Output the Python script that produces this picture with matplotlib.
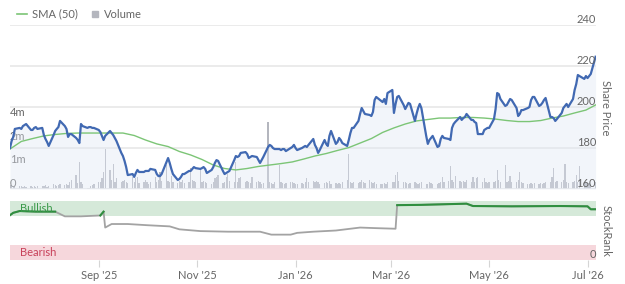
import numpy as np
import pandas as pd
import matplotlib
matplotlib.use("Agg")
import matplotlib.pyplot as plt
from matplotlib.lines import Line2D
from matplotlib.ticker import NullLocator

plt.rcParams['font.family'] = ['Lato', 'DejaVu Sans']

# trading days on the chart (Tue..Mon rows below)
days = pd.bdate_range('2025-07-08', '2026-07-06')

# daily close, one row per week
price_rows = [
    [180.0, 183.4, 185.4, 189.3, 189.8],
    [189.3, 190.7, 191.2, 191.7, 188.8],
    [188.8, 189.8, 190.2, 189.3, 189.8],
    [186.3, 184.4, 182.9, 181.0, 186.3],
    [188.3, 189.3, 190.2, 193.2, 190.7],
    [189.3, 185.4, 186.8, 186.8, 184.9],
    [183.9, 182.4, 191.7, 190.7, 189.8],
    [190.2, 190.2, 189.8, 189.8, 188.8],
    [187.8, 185.9, 183.9, 185.9, 188.3],
    [187.3, 186.3, 184.9, 183.4, 177.6],
    [176.1, 173.7, 170.7, 166.8, 167.3],
    [165.9, 167.8, 169.3, 168.3, 168.3],
    [168.8, 168.8, 168.8, 169.8, 169.3],
    [167.3, 166.3, 166.3, 167.3, 173.2],
    [175.1, 172.7, 169.8, 167.3, 164.4],
    [164.9, 165.9, 167.3, 167.3, 168.8],
    [168.8, 169.8, 170.7, 170.2, 169.8],
    [170.2, 170.7, 169.8, 167.8, 169.3],
    [170.7, 172.7, 174.1, 173.7, 168.8],
    [167.3, 167.8, 168.3, 168.8, 174.1],
    [176.1, 175.6, 176.1, 177.6, 178.0],
    [177.1, 175.1, 175.6, 176.1, 175.6],
    [174.1, 172.7, 174.1, 175.6, 180.5],
    [181.5, 181.0, 180.0, 179.5, 179.5],
    [179.0, 179.5, 179.5, 178.5, 180.0],
    [180.5, 181.5, 180.0, 179.0, 180.0],
    [180.5, 181.0, 180.5, 181.5, 184.4],
    [181.5, 180.0, 177.6, 179.0, 183.9],
    [182.0, 181.0, 185.9, 188.3, 182.0],
    [182.9, 184.9, 183.9, 182.4, 181.0],
    [183.9, 187.3, 189.8, 189.8, 193.2],
    [196.6, 199.5, 198.0, 196.6, 196.1],
    [195.6, 197.6, 203.4, 204.9, 203.0],
    [202.4, 203.9, 201.5, 206.8, 208.3],
    [197.1, 201.5, 204.9, 205.4, 201.0],
    [199.0, 200.5, 202.0, 201.5, 193.2],
    [196.6, 199.5, 201.5, 199.5, 185.9],
    [182.0, 183.9, 184.9, 185.9, 180.5],
    [181.0, 184.4, 185.9, 184.9, 184.4],
    [183.9, 189.8, 191.7, 192.7, 195.1],
    [193.7, 194.6, 195.1, 196.6, 193.7],
    [193.7, 192.7, 192.2, 186.8, 186.8],
    [188.8, 189.3, 189.8, 189.8, 194.1],
    [199.0, 206.8, 206.3, 203.9, 200.5],
    [201.0, 202.4, 203.9, 203.4, 199.5],
    [195.6, 196.6, 198.5, 198.5, 199.5],
    [200.0, 203.4, 204.9, 204.9, 200.5],
    [201.0, 202.0, 203.4, 204.4, 195.1],
    [195.1, 194.6, 193.2, 194.1, 197.1],
    [199.5, 200.5, 201.5, 200.0, 203.9],
    [208.3, 211.2, 215.6, 215.1, 213.7],
    [215.1, 214.1, 215.1, 216.1, 224.5],
]

# daily volume in millions, one row per week
volume_rows = [
    [0.15, 0.12, 0.10, 0.14, 0.12],
    [0.12, 0.10, 0.13, 0.10, 0.12],
    [0.10, 0.12, 0.10, 0.14, 0.12],
    [0.12, 0.15, 0.10, 0.13, 0.20],
    [0.15, 0.12, 0.16, 0.20, 0.15],
    [0.20, 0.18, 0.30, 0.40, 0.60],
    [0.25, 1.10, 0.30, 0.20, 0.04],
    [0.05, 0.12, 0.15, 0.20, 0.30],
    [0.30, 0.45, 0.70, 1.60, 0.80],
    [0.40, 1.05, 0.30, 0.45, 0.30],
    [0.35, 0.40, 0.30, 0.25, 0.50],
    [0.30, 0.45, 0.50, 0.25, 0.30],
    [0.40, 0.30, 0.20, 0.30, 0.50],
    [0.30, 0.40, 0.70, 0.35, 1.00],
    [0.35, 0.30, 0.55, 0.30, 0.25],
    [0.35, 0.30, 0.40, 0.25, 0.30],
    [0.90, 0.40, 0.35, 0.30, 0.90],
    [0.30, 0.35, 0.30, 0.25, 0.20],
    [0.30, 0.45, 0.50, 0.60, 0.25],
    [0.30, 0.50, 0.65, 0.35, 0.30],
    [1.10, 0.30, 0.45, 0.50, 0.30],
    [0.35, 0.30, 0.25, 0.50, 0.30],
    [0.35, 0.30, 0.20, 0.25, 3.50],
    [0.30, 0.25, 0.20, 0.30, 1.00],
    [0.30, 0.25, 0.20, 0.25, 0.30],
    [0.30, 0.25, 0.20, 0.20, 0.25],
    [0.20, 0.30, 0.45, 0.30, 0.35],
    [0.30, 0.35, 0.30, 0.20, 0.25],
    [0.30, 0.25, 0.35, 0.20, 0.25],
    [0.20, 0.25, 0.20, 0.30, 0.40],
    [1.40, 0.30, 0.25, 0.30, 0.25],
    [0.30, 0.40, 0.30, 0.25, 0.40],
    [0.30, 0.25, 0.30, 0.20, 0.20],
    [0.20, 0.25, 0.20, 0.30, 0.30],
    [0.30, 0.60, 0.70, 0.35, 0.30],
    [0.30, 0.25, 0.20, 0.25, 0.30],
    [0.25, 0.20, 0.25, 0.30, 0.20],
    [0.20, 0.30, 0.25, 0.20, 0.20],
    [0.25, 0.30, 0.50, 0.30, 0.35],
    [0.95, 0.40, 0.30, 0.55, 0.35],
    [0.30, 0.35, 0.30, 0.40, 0.30],
    [0.50, 0.30, 0.45, 0.50, 0.30],
    [0.45, 0.30, 0.25, 0.30, 0.30],
    [0.35, 0.80, 0.40, 0.30, 1.00],
    [0.30, 0.35, 0.55, 0.30, 0.30],
    [0.40, 0.72, 0.30, 0.25, 0.20],
    [0.20, 0.25, 0.20, 0.25, 0.20],
    [0.25, 0.20, 0.25, 0.30, 0.30],
    [0.50, 0.90, 0.30, 0.35, 0.30],
    [0.40, 1.05, 0.30, 0.25, 0.30],
    [0.35, 0.60, 0.30, 0.98, 0.25],
    [0.30, 0.20, 0.25, 0.20, 0.30],
]

# 50 day SMA, read weekly (each Tuesday) plus last day
sma = [179.5, 183.2, 184.6, 185.9, 186.6, 187.1, 187.3, 187.3, 187.3, 187.3,
       187.3, 186.1, 183.9, 182.0, 180.7, 178.3, 176.6, 174.4, 171.7, 170.0,
       169.3, 170.0, 171.0, 171.7, 172.4, 173.2, 174.6, 176.1, 177.3, 178.8,
       180.2, 182.4, 184.6, 187.6, 189.8, 191.7, 193.2, 193.9, 194.6, 194.6,
       194.9, 194.9, 194.6, 194.1, 193.4, 192.9, 192.9, 193.4, 194.6, 195.6,
       197.1, 198.5, 201.0]

# StockRank
rank_dates = ['2025-07-08', '2025-07-10', '2025-07-14', '2025-07-24', '2025-08-05',
              '2025-08-11', '2025-08-21', '2025-09-02', '2025-09-04', '2025-09-05',
              '2025-09-09', '2025-09-19', '2025-10-01', '2025-10-15', '2025-10-21',
              '2025-11-03', '2025-11-20', '2025-12-10', '2025-12-17', '2025-12-29',
              '2026-01-02', '2026-01-12', '2026-01-26', '2026-02-10', '2026-02-20',
              '2026-03-04', '2026-03-05', '2026-03-20', '2026-04-17', '2026-04-21',
              '2026-05-15', '2026-06-14', '2026-07-01', '2026-07-03', '2026-07-06']
rank = [76, 80, 83, 82, 82,
        74, 74, 75.5, 82, 55,
        61, 61, 59, 57, 52,
        49, 48, 48, 43, 43,
        46, 48, 50, 55, 54,
        53, 93, 93.5, 95.5, 91.5,
        91, 91.5, 91, 86, 86]

price_ticks = [160, 180, 200, 220, 240]
vol_ticks = [0, 1e6, 2e6, 4e6]
vol_labels = ['0', '1m', '2m', '4m']
x_ticks = ['2025-09-01', '2025-11-01', '2026-01-01', '2026-03-01', '2026-05-01', '2026-07-01']
x_labels = ["Sep '25", "Nov '25", "Jan '26", "Mar '26", "May '26", "Jul '26"]

price = np.array(price_rows).ravel()
volume = np.array(volume_rows).ravel() * 1e6
sma_days = list(days[::5]) + [days[-1]]
rank = np.array(rank, dtype=float)
rank_dates = pd.to_datetime(rank_dates)

txt = '#666666'
fig = plt.figure(figsize=(6.25, 2.84), dpi=100)
ax_v = fig.add_axes([0.016, 0.3345, 0.9376, 0.5775])
ax_r = fig.add_axes([0.016, 0.0845, 0.9376, 0.2077], sharex=ax_v)
ax_p = ax_v.twinx()

# volume
ax_v.bar(days, volume, width=0.8, color='#b4b6be', lw=0)
ax_v.set_yscale('symlog', base=2, linthresh=1e6, linscale=0.5)
ax_v.set_ylim(0, 60e6)
for v, lab in zip(vol_ticks, vol_labels):
    ax_v.text(0.0, v, lab, transform=ax_v.get_yaxis_transform(), ha='left', va='bottom',
              fontsize=8, color=txt)

# price
for v in price_ticks:
    ax_p.axhline(v, color='#e9e9e9', lw=1.3, zorder=0)
ax_p.fill_between(days, price, 160, color='#dfe6f3', alpha=0.4, lw=0)
ax_p.plot(days, price, color='#4169b2', lw=1.6, zorder=3)
ax_p.plot(sma_days, sma, color='#7cc576', lw=1.0, zorder=2)
ax_p.set_ylim(160, 240)
for v in price_ticks:
    ax_p.text(1.0, v, str(v), transform=ax_p.get_yaxis_transform(), ha='right', va='bottom',
              fontsize=8, color=txt)

for a in (ax_v, ax_p):
    a.set_yticks([])
    a.yaxis.set_minor_locator(NullLocator())
    a.tick_params(which='both', left=False, right=False, bottom=False, labelbottom=False)
    for s in a.spines.values():
        s.set_visible(False)

# stockrank
ax_r.axhspan(75, 100, color='#d5e9d9', lw=0)
ax_r.axhspan(0, 25, color='#f6d7dc', lw=0)
ax_r.text(0.017, 87.5, 'Bullish', transform=ax_r.get_yaxis_transform(), ha='left', va='center',
          fontsize=8, color='#3a9a4a')
ax_r.text(0.017, 12.5, 'Bearish', transform=ax_r.get_yaxis_transform(), ha='left', va='center',
          fontsize=8, color='#c8415a')
ax_r.plot(rank_dates, rank, color='#a3a3a3', lw=1.3)
ax_r.plot(rank_dates, np.where(rank >= 75, rank, np.nan), color='#2f8f3f', lw=1.5)
ax_r.text(1.0, 0, '0', transform=ax_r.get_yaxis_transform(), ha='right', va='bottom',
          fontsize=8, color=txt)
ax_r.set_ylim(0, 100)
ax_r.set_yticks([])
ax_r.yaxis.set_minor_locator(NullLocator())
ax_r.set_xticks(pd.to_datetime(x_ticks))
ax_r.set_xticklabels(x_labels)
ax_r.tick_params(axis='x', length=5, color='#d5d5d5', labelsize=8, labelcolor=txt, pad=2)
for s in ax_r.spines.values():
    s.set_visible(False)
ax_r.set_xlim(pd.Timestamp('2025-07-08'), pd.Timestamp('2026-07-06 06:00'))

# axis titles
fig.text(606 / 625, 1 - 107.5 / 284, 'Share Price', rotation=270, ha='center', va='center',
         fontsize=8, color=txt)
fig.text(606 / 625, 1 - 230.5 / 284, 'StockRank', rotation=270, ha='center', va='center',
         fontsize=8, color=txt)

# legend
ly = 1 - 14 / 284
fig.add_artist(Line2D([17 / 625, 27 / 625], [ly, ly], transform=fig.transFigure,
                      color='#7cc576', lw=1.2))
fig.text(32 / 625, ly, 'SMA (50)', ha='left', va='center', fontsize=8, color=txt)
fig.add_artist(Line2D([94.5 / 625], [ly], transform=fig.transFigure, marker='s',
                      markersize=4, color='#b4b6be', lw=0))
fig.text(104 / 625, ly, 'Volume', ha='left', va='center', fontsize=8, color=txt)

fig.savefig('out.png', dpi=100)
